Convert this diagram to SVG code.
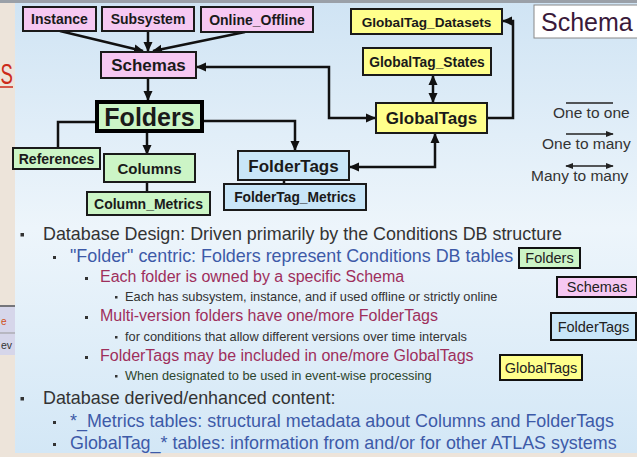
<svg xmlns="http://www.w3.org/2000/svg" width="637" height="457" viewBox="0 0 637 457">
<defs>
<linearGradient id="bg" x1="0" y1="0" x2="0" y2="1">
<stop offset="0" stop-color="#d0e4f4"/>
<stop offset="0.5" stop-color="#edf5fb"/>
<stop offset="1" stop-color="#d3e7f6"/>
</linearGradient>
<marker id="ah" viewBox="0 0 10 10" refX="9" refY="5" markerWidth="10" markerHeight="10" markerUnits="userSpaceOnUse" orient="auto-start-reverse">
<path d="M0,0.5 L10,5 L0,9.5 z" fill="#111"/>
</marker>
<marker id="ahs" viewBox="0 0 10 10" refX="9" refY="5" markerWidth="8" markerHeight="8" markerUnits="userSpaceOnUse" orient="auto-start-reverse">
<path d="M0,1 L10,5 L0,9 z" fill="#222"/>
</marker>
</defs>
<style>
.n rect{stroke:#1a1a1a;stroke-width:2}
.pink{fill:#f6c8f2}
.green{fill:#ccf5c6}
.yellow{fill:#ffff8c}
.blue{fill:#c9e6f8}
.lb{font-family:"Liberation Sans",Arial,sans-serif;font-weight:bold;fill:#1a1a1a;text-anchor:middle}
.c line,.c path{stroke:#111;stroke-width:2.5;fill:none}
.t{font-family:"Liberation Sans",Arial,sans-serif}
.l1{font-size:17.9px;fill:#333}
.l2{font-size:17.9px;fill:#3d5aa8}
.l3{font-size:16px;fill:#9e2f5c}
.l4{font-size:12.8px;fill:#333}
.l4g{font-size:12.8px;fill:#2d452d}
.bul{fill:#333}
.key rect{stroke:#111;stroke-width:2}
.key text{font-family:"Liberation Sans",Arial,sans-serif;font-size:14.5px;fill:#222;text-anchor:middle}
.lg{font-family:"Liberation Sans",Arial,sans-serif;font-size:15.5px;fill:#333}
</style>
<rect x="0" y="0" width="637" height="457" fill="#ede4da"/>
<rect x="15" y="3" width="622" height="450" fill="url(#bg)"/>
<rect x="0" y="0" width="637" height="3" fill="#9aa0a8"/>
<text x="0" y="84" class="t" font-size="30" fill="#cc2a1a" transform="translate(0.5,0) scale(0.62,1)">S</text>
<line x1="0" y1="87" x2="13" y2="87" stroke="#cc2a1a" stroke-width="1.5"/>
<rect x="0" y="305" width="15" height="50" fill="#d6d6ea"/>
<line x1="0" y1="306" x2="15" y2="306" stroke="#555" stroke-width="1.5"/>
<line x1="0" y1="333" x2="15" y2="333" stroke="#999" stroke-width="1"/>
<text x="1" y="325" class="t" font-size="10" fill="#d05020">e</text>
<text x="1" y="349" class="t" font-size="10.5" fill="#333">ev</text>

<g id="schema-title">
<rect x="534" y="5" width="110" height="33" fill="#ffffff" stroke="#888" stroke-width="1"/>
<text x="541" y="31" class="t" font-size="25" fill="#3a1a3a">Schema</text>
</g>

<g class="c" id="connectors">
<line x1="60" y1="31" x2="143" y2="51" marker-end="url(#ah)"/>
<line x1="148" y1="31" x2="148" y2="51" marker-end="url(#ah)"/>
<line x1="245" y1="32" x2="153" y2="51" marker-end="url(#ah)"/>
<line x1="148" y1="78" x2="148" y2="100" marker-end="url(#ah)"/>
<path d="M197,67 H329 V118 H375" marker-start="url(#ah)" marker-end="url(#ah)"/>
<path d="M96,122 H58 V148"/>
<line x1="147" y1="133" x2="147" y2="154" marker-end="url(#ah)"/>
<line x1="147" y1="182" x2="147" y2="192"/>
<path d="M204,121 H295 V150" marker-end="url(#ah)"/>
<line x1="284" y1="180" x2="284" y2="184"/>
<path d="M435,134 V167 H350" marker-start="url(#ah)" marker-end="url(#ah)"/>
<line x1="433" y1="76" x2="433" y2="102" marker-start="url(#ah)" marker-end="url(#ah)"/>
<path d="M488,118 H513 V21 H503" marker-end="url(#ah)"/>
</g>

<g class="n" id="instance"><rect class="pink" x="23" y="7" width="73" height="24"/><text class="lb" x="59.5" y="24" font-size="14">Instance</text></g>
<g class="n" id="subsystem"><rect class="pink" x="102" y="7" width="92" height="24"/><text class="lb" x="148" y="24" font-size="14">Subsystem</text></g>
<g class="n" id="online-offline"><rect class="pink" x="201" y="7" width="112" height="25"/><text class="lb" x="257" y="24.5" font-size="14">Online_Offline</text></g>
<g class="n" id="schemas"><rect class="pink" x="101" y="52" width="95" height="26"/><text class="lb" x="148.5" y="71" font-size="17">Schemas</text></g>
<g class="n" id="folders"><rect class="green" x="97" y="102" width="105" height="29" style="stroke:#000;stroke-width:4"/><text class="lb" x="149.5" y="125.5" font-size="25">Folders</text></g>
<g class="n" id="references"><rect class="green" x="13" y="148" width="87" height="21"/><text class="lb" x="56.5" y="163.5" font-size="14">References</text></g>
<g class="n" id="columns"><rect class="green" x="104" y="154" width="91" height="28"/><text class="lb" x="149.5" y="174" font-size="15">Columns</text></g>
<g class="n" id="column-metrics"><rect class="green" x="87" y="192" width="123" height="23"/><text class="lb" x="148.5" y="208.5" font-size="14">Column_Metrics</text></g>
<g class="n" id="foldertags"><rect class="blue" x="238" y="151" width="111" height="29"/><text class="lb" x="293.5" y="171.5" font-size="17">FolderTags</text></g>
<g class="n" id="foldertag-metrics"><rect class="blue" x="224" y="184" width="142" height="26"/><text class="lb" x="295" y="202" font-size="13.8">FolderTag_Metrics</text></g>
<g class="n" id="globaltag-datasets"><rect class="yellow" x="351" y="9" width="151" height="25"/><text class="lb" x="426.5" y="26.5" font-size="13.6">GlobalTag_Datasets</text></g>
<g class="n" id="globaltag-states"><rect class="yellow" x="363" y="48" width="128" height="27"/><text class="lb" x="427" y="66.5" font-size="13.8">GlobalTag_States</text></g>
<g class="n" id="globaltags"><rect class="yellow" x="376" y="103" width="111" height="30"/><text class="lb" x="431.5" y="124" font-size="17">GlobalTags</text></g>

<g id="legend">
<line x1="566" y1="103" x2="613" y2="103" stroke="#222" stroke-width="1.5"/>
<text class="lg" x="553" y="118">One to one</text>
<line x1="566" y1="134" x2="613" y2="134" stroke="#222" stroke-width="1.5" marker-end="url(#ahs)"/>
<text class="lg" x="542" y="149">One to many</text>
<line x1="566" y1="166" x2="613" y2="166" stroke="#222" stroke-width="1.5" marker-start="url(#ahs)" marker-end="url(#ahs)"/>
<text class="lg" x="531" y="181">Many to many</text>
</g>

<g id="bullets">
<rect class="bul" x="20.5" y="233" width="3.5" height="3.5"/>
<text class="t l1" x="43" y="240">Database Design: Driven primarily by the Conditions DB structure</text>
<rect class="bul" x="53" y="256" width="3" height="3"/>
<text class="t l2" x="70" y="262">"Folder" centric: Folders represent Conditions DB tables</text>
<rect class="bul" x="85" y="277" width="3" height="3"/>
<text class="t l3" x="100" y="282">Each folder is owned by a specific Schema</text>
<rect class="bul" x="115" y="296" width="2.5" height="2.5"/>
<text class="t l4" x="125" y="301">Each has subsystem, instance, and if used offline or strictly online</text>
<rect class="bul" x="85" y="316" width="3" height="3"/>
<text class="t l3" x="100" y="321">Multi-version folders have one/more FolderTags</text>
<rect class="bul" x="115" y="336" width="2.5" height="2.5"/>
<text class="t l4" x="125" y="341">for conditions that allow different versions over time intervals</text>
<rect class="bul" x="85" y="356" width="3" height="3"/>
<text class="t l3" x="100" y="361">FolderTags may be included in one/more GlobalTags</text>
<rect class="bul" x="115" y="375" width="2.5" height="2.5"/>
<text class="t l4g" x="125" y="380">When designated to be used in event-wise processing</text>
<rect class="bul" x="20.5" y="397" width="3.5" height="3.5"/>
<text class="t l1" x="43" y="404">Database derived/enhanced content:</text>
<rect class="bul" x="53" y="421" width="3" height="3"/>
<text class="t l2" x="70" y="427">*_Metrics tables: structural metadata about Columns and FolderTags</text>
<rect class="bul" x="53" y="443" width="3" height="3"/>
<text class="t l2" x="70" y="449">GlobalTag_* tables: information from and/or for other ATLAS systems</text>
</g>

<g class="key" id="key-folders"><rect class="green" x="519" y="248" width="61" height="20"/><text x="549.5" y="263">Folders</text></g>
<g class="key" id="key-schemas"><rect class="pink" x="557" y="277" width="80" height="20"/><text x="597" y="292">Schemas</text></g>
<g class="key" id="key-foldertags"><rect class="blue" x="551" y="313" width="85" height="27"/><text x="593.5" y="331.5">FolderTags</text></g>
<g class="key" id="key-globaltags"><rect class="yellow" x="500" y="355" width="82" height="25"/><text x="541" y="372.5">GlobalTags</text></g>
</svg>
